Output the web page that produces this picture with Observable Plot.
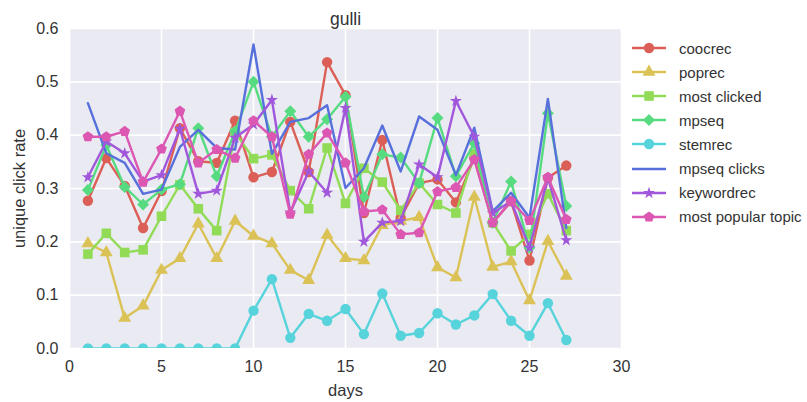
<!DOCTYPE html>
<html>
<head>
<meta charset="utf-8">
<script src="https://cdn.jsdelivr.net/npm/d3@7"></script>
<script src="https://cdn.jsdelivr.net/npm/@observablehq/plot@0.6"></script>
<style>
  html, body { margin: 0; padding: 0; background: #fff; }
  #chart { position: relative; width: 807px; height: 402px; overflow: hidden;
           font-family: "Liberation Sans", Arial, sans-serif; color: #333333; }
  #chart > svg { position: absolute; left: 0; top: 0; }
  #legend { position: absolute; left: 631px; top: 36px; font-size: 15px; }
  #legend .row { display: flex; align-items: center; height: 24.1px; white-space: nowrap; }
  #legend .row svg { margin-right: 12px; flex: none; }
</style>
</head>
<body>
<div id="chart"></div>
<script>
// Unique click rate per day for each recommender on "gulli"
const days = [1, 2, 3, 4, 5, 6, 7, 8, 9, 10, 11, 12, 13, 14, 15, 16, 17, 18, 19, 20, 21, 22, 23, 24, 25, 26, 27];

const coocrec = [0.277, 0.357, 0.305, 0.226, 0.295, 0.413, 0.351, 0.348, 0.427, 0.321, 0.331, 0.425, 0.331, 0.537, 0.475, 0.254, 0.391, 0.245, 0.31, 0.317, 0.274, 0.357, 0.236, 0.276, 0.165, 0.32, 0.343];
const poprec = [0.197, 0.18, 0.057, 0.08, 0.147, 0.169, 0.234, 0.169, 0.239, 0.211, 0.197, 0.147, 0.128, 0.213, 0.169, 0.165, 0.231, 0.239, 0.246, 0.152, 0.133, 0.284, 0.153, 0.163, 0.09, 0.201, 0.136];
const mostClicked = [0.177, 0.216, 0.18, 0.185, 0.248, 0.307, 0.262, 0.221, 0.405, 0.356, 0.363, 0.296, 0.262, 0.376, 0.272, 0.338, 0.312, 0.259, 0.31, 0.27, 0.254, 0.365, 0.236, 0.183, 0.214, 0.29, 0.221];
const mpseq = [0.297, 0.381, 0.303, 0.27, 0.298, 0.308, 0.413, 0.323, 0.407, 0.5, 0.397, 0.445, 0.397, 0.43, 0.472, 0.284, 0.364, 0.358, 0.31, 0.432, 0.323, 0.385, 0.236, 0.313, 0.189, 0.441, 0.267];
const stemrec = [0, 0, 0, 0, 0, 0, 0, 0, 0, 0.071, 0.13, 0.02, 0.065, 0.052, 0.074, 0.027, 0.103, 0.024, 0.029, 0.066, 0.045, 0.062, 0.102, 0.052, 0.024, 0.085, 0.016];
const mpseqClicks = [0.46, 0.366, 0.348, 0.29, 0.298, 0.378, 0.41, 0.376, 0.373, 0.57, 0.365, 0.425, 0.432, 0.456, 0.301, 0.338, 0.418, 0.332, 0.435, 0.41, 0.325, 0.414, 0.257, 0.292, 0.245, 0.468, 0.226];
const keywordrec = [0.321, 0.388, 0.366, 0.313, 0.325, 0.412, 0.29, 0.296, 0.395, 0.42, 0.466, 0.255, 0.332, 0.292, 0.451, 0.2, 0.236, 0.239, 0.345, 0.321, 0.464, 0.397, 0.254, 0.276, 0.189, 0.32, 0.203];
const mostPopularTopic = [0.397, 0.397, 0.407, 0.312, 0.374, 0.445, 0.348, 0.373, 0.357, 0.427, 0.397, 0.252, 0.364, 0.404, 0.348, 0.257, 0.26, 0.214, 0.217, 0.294, 0.302, 0.354, 0.236, 0.276, 0.24, 0.321, 0.242];

const xTicks = [0, 5, 10, 15, 20, 25, 30];
const yTicks = [0, 0.1, 0.2, 0.3, 0.4, 0.5, 0.6];

// Regular pentagon marker (d3 has none built in)
const pentagon = {
  draw(context, size) {
    const r = Math.sqrt(size / Math.PI) * 1.12;
    for (let k = 0; k < 5; ++k) {
      const a = -Math.PI / 2 + k * 2 * Math.PI / 5;
      const px = r * Math.cos(a), py = r * Math.sin(a);
      if (k === 0) context.moveTo(px, py); else context.lineTo(px, py);
    }
    context.closePath();
  }
};

const series = [
  {name: "coocrec", values: coocrec, color: "#db5f57", symbol: d3.symbolCircle, r: 5.2},
  {name: "poprec", values: poprec, color: "#dbc257", symbol: d3.symbolTriangle, r: 4.8},
  {name: "most clicked", values: mostClicked, color: "#91db57", symbol: d3.symbolSquare, r: 5.4},
  {name: "mpseq", values: mpseq, color: "#57db80", symbol: d3.symbolDiamond2, r: 5.4},
  {name: "stemrec", values: stemrec, color: "#57d3db", symbol: d3.symbolCircle, r: 5.2},
  {name: "mpseq clicks", values: mpseqClicks, color: "#5770db", symbol: null, r: 0},
  {name: "keywordrec", values: keywordrec, color: "#a157db", symbol: d3.symbolStar, r: 3.8},
  {name: "most popular topic", values: mostPopularTopic, color: "#db57b2", symbol: pentagon, r: 5}
];

const gridStyle = {stroke: "#ffffff", strokeOpacity: 1, strokeWidth: 1.6};

const seriesMarks = series.flatMap(s => {
  const rows = days.map((d, i) => ({day: d, value: s.values[i]}));
  const marks = [Plot.line(rows, {x: "day", y: "value", stroke: s.color, strokeWidth: 2.4, clip: true})];
  if (s.symbol) {
    marks.push(Plot.dot(rows, {x: "day", y: "value", symbol: s.symbol, r: s.r, fill: s.color, stroke: "none", clip: true}));
  }
  return marks;
});

const plot = Plot.plot({
  width: 807,
  height: 402,
  marginLeft: 69,
  marginRight: 186,
  marginTop: 28,
  marginBottom: 54,
  style: {fontFamily: "Liberation Sans, Arial, sans-serif", fontSize: "16px", color: "#333333", background: "transparent"},
  x: {domain: [0, 30]},
  y: {domain: [0, 0.6]},
  marks: [
    Plot.frame({fill: "#EAEAF2", stroke: "none"}),
    Plot.gridX(xTicks, gridStyle),
    Plot.gridY(yTicks, gridStyle),
    Plot.axisX(xTicks, {tickSize: 0, tickPadding: 12, fontSize: 16, label: null}),
    Plot.axisY(yTicks, {tickSize: 0, tickPadding: 11, fontSize: 16, tickFormat: d3.format(".1f"), label: null}),
    Plot.axisX({tickSize: 0, ticks: [], label: "days", labelAnchor: "center", labelOffset: 47, labelArrow: "none", fontSize: 16.5}),
    Plot.axisY({tickSize: 0, ticks: [], label: "unique click rate", labelAnchor: "center", labelOffset: 56, labelArrow: "none", fontSize: 16.5}),
    ...seriesMarks,
    Plot.text(["gulli"], {frameAnchor: "top", dy: -16, fontSize: 17.5, fill: "#333333"})
  ]
});

const chart = document.getElementById("chart");
chart.appendChild(plot);

// Legend to the right of the axes
const legend = d3.select(chart).append("div").attr("id", "legend");
series.forEach(s => {
  const row = legend.append("div").attr("class", "row");
  const sw = row.append("svg").attr("width", 36).attr("height", 20);
  sw.append("line").attr("x1", 1).attr("x2", 35).attr("y1", 10).attr("y2", 10)
    .attr("stroke", s.color).attr("stroke-width", 2.5);
  if (s.symbol) {
    sw.append("path").attr("transform", "translate(18,10)")
      .attr("d", d3.symbol(s.symbol, s.r * s.r * Math.PI)())
      .attr("fill", s.color);
  }
  row.append("span").text(s.name);
});
</script>
</body>
</html>
